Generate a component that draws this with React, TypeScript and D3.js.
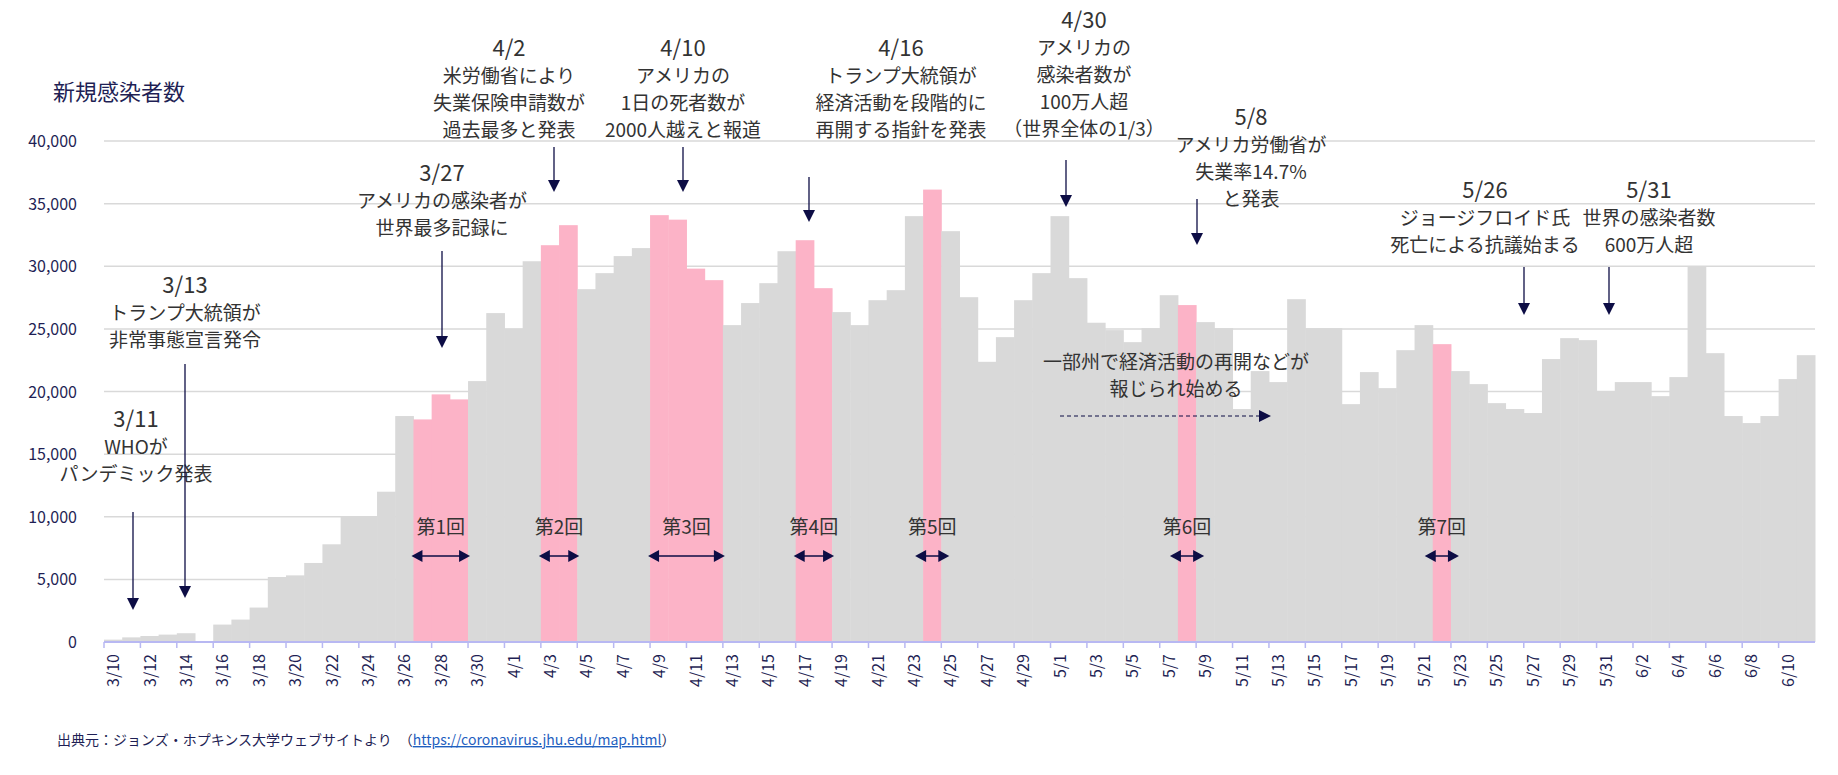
import React from "react";
import * as d3 from "d3";

const dates: string[] = [];
{
  const months = [[3, 10, 31], [4, 1, 30], [5, 1, 31], [6, 1, 11]];
  for (const [m, s, e] of months) for (let d = s; d <= e; d++) dates.push(`${m}/${d}`);
}
const cases = [
  190, 370, 480, 590, 700, 0, 1390, 1790, 2750, 5190, 5320, 6310, 7800, 10000, 10000, 12000, 18040, 17770, 19770, 19370, 20830, 26260,
  25030, 30400, 31680, 33280, 28170, 29450, 30810, 31450, 34080, 33720, 29810, 28890, 25300, 27060, 28650, 31200, 32080, 28250, 26340, 25300,
  27290, 28090, 34000, 36120, 32800, 27530, 22370, 24340, 27290, 29450,
  34000, 29050, 25490, 24900, 23940, 25060, 27690, 26900, 25540, 25060, 18600, 21630, 20750, 27370, 25060, 25060, 18990, 21550, 20270,
  23300, 25300, 23780, 21630, 20590, 19070, 18600, 18280, 22590, 24260, 24100, 20030,
  20750, 20750, 19630, 21150, 30000, 23060, 18040, 17480, 18040, 20990, 22900,
];
const highlight = ["3/27", "3/28", "3/29", "4/3", "4/4", "4/9", "4/10", "4/11", "4/12", "4/17", "4/18", "4/24", "5/8", "5/22"];
const rounds = [
  { label: "第1回", from: "3/27", to: "3/29" },
  { label: "第2回", from: "4/3", to: "4/4" },
  { label: "第3回", from: "4/9", to: "4/12" },
  { label: "第4回", from: "4/17", to: "4/18" },
  { label: "第5回", from: "4/24", to: "4/24" },
  { label: "第6回", from: "5/8", to: "5/8" },
  { label: "第7回", from: "5/22", to: "5/22" },
];
const yTicks = [0, 5000, 10000, 15000, 20000, 25000, 30000, 35000, 40000];
const events = [
  { lines: ["3/11", "WHOが", "パンデミック発表"], cx: 136, ty: 427, ax: 133, a0: 512, a1: 610 },
  { lines: ["3/13", "トランプ大統領が", "非常事態宣言発令"], cx: 185, ty: 293, ax: 185, a0: 364, a1: 598 },
  { lines: ["3/27", "アメリカの感染者が", "世界最多記録に"], cx: 442, ty: 181, ax: 442, a0: 251, a1: 348 },
  { lines: ["4/2", "米労働省により", "失業保険申請数が", "過去最多と発表"], cx: 509, ty: 56, ax: 554, a0: 147, a1: 192 },
  { lines: ["4/10", "アメリカの", "1日の死者数が", "2000人越えと報道"], cx: 683, ty: 56, ax: 683, a0: 147, a1: 192 },
  { lines: ["4/16", "トランプ大統領が", "経済活動を段階的に", "再開する指針を発表"], cx: 901, ty: 56, ax: 809, a0: 177, a1: 222 },
  { lines: ["4/30", "アメリカの", "感染者数が", "100万人超", "（世界全体の1/3）"], cx: 1084, ty: 28, ax: 1066, a0: 160, a1: 207 },
  { lines: ["5/8", "アメリカ労働省が", "失業率14.7%", "と発表"], cx: 1251, ty: 125, ax: 1197, a0: 199, a1: 245 },
  { lines: ["5/26", "ジョージフロイド氏", "死亡による抗議始まる"], cx: 1485, ty: 198, ax: 1524, a0: 267, a1: 315 },
  { lines: ["5/31", "世界の感染者数", "600万人超"], cx: 1649, ty: 198, ax: 1609, a0: 267, a1: 315 },
];

const W = 1838, H = 775;
const left = 104, right = 1815, top = 141, bottom = 642;
const FONT = "'Noto Sans CJK JP', 'Noto Sans', sans-serif";
const NAVY = "#0d0d45";

export default function App() {
  const x = d3.scaleBand<string>().domain(dates).range([left, right]).padding(0);
  const y = d3.scaleLinear().domain([0, 40000]).range([bottom, top]);
  const bw = x.bandwidth();
  const hl = new Set(highlight);
  const fmt = d3.format(",");
  const arrowDown = (ax: number, a0: number, a1: number, k: number) => (
    <g key={k}>
      <line x1={ax} x2={ax} y1={a0} y2={a1 - 10} stroke={NAVY} strokeWidth={1.3} />
      <path d={`M${ax - 6},${a1 - 12} L${ax + 6},${a1 - 12} L${ax},${a1} Z`} fill={NAVY} />
    </g>
  );
  return (
    <svg width={W} height={H} style={{ position: "fixed", left: 0, top: 0, background: "#fff" }} fontFamily={FONT}>
      {yTicks.map((t) => (
        <g key={t}>
          {t > 0 && <line x1={left} x2={right} y1={y(t)} y2={y(t)} stroke="#d9d9d9" strokeWidth={1.5} />}
          <text x={77} y={y(t) + 6} textAnchor="end" fontSize={16} fill="#1f1f55">{fmt(t)}</text>
        </g>
      ))}
      {dates.map((d, i) => (
        <rect key={d} x={x(d)!} y={y(cases[i])} width={bw + 0.5} height={bottom - y(cases[i])} fill={hl.has(d) ? "#fcb3c7" : "#d9d9d9"} />
      ))}
      <line x1={left} x2={right} y1={bottom} y2={bottom} stroke="#b8b8f2" strokeWidth={2} />
      {dates.map((d, i) => i % 2 === 0 ? (
        <g key={d}>
          <line x1={x(d)!} x2={x(d)!} y1={bottom} y2={bottom + 6} stroke="#b8b8f2" strokeWidth={1.5} />
          <text transform={`translate(${x(d)! + bw / 2 + 6},${bottom + 12}) rotate(-90)`} textAnchor="end" fontSize={16} fill="#1f1f55">{d}</text>
        </g>
      ) : null)}
      <text x={53} y={100} fontSize={22} fill="#1f1f55">新規感染者数</text>
      {events.map((e, k) => (
        <g key={k}>
          {e.lines.map((l, j) => (
            <text key={j} x={e.cx} y={e.ty + j * 27} textAnchor="middle" fontSize={j === 0 ? 22 : 19} fill="#333">{l}</text>
          ))}
          {arrowDown(e.ax, e.a0, e.a1, k)}
        </g>
      ))}
      {rounds.map((r) => {
        const x0 = x(r.from)!, x1 = x(r.to)! + bw;
        const pad = r.from === r.to ? 8 : 2;
        const a = x0 - pad, b = x1 + pad;
        const cy = 556;
        return (
          <g key={r.label}>
            <text x={(x0 + x1) / 2} y={534} textAnchor="middle" fontSize={19} fill="#333">{r.label}</text>
            <line x1={a + 8} x2={b - 8} y1={cy} y2={cy} stroke={NAVY} strokeWidth={1.5} />
            <path d={`M${a},${cy} L${a + 11},${cy - 6} L${a + 11},${cy + 6} Z`} fill={NAVY} />
            <path d={`M${b},${cy} L${b - 11},${cy - 6} L${b - 11},${cy + 6} Z`} fill={NAVY} />
          </g>
        );
      })}
      <text x={1176} y={369} textAnchor="middle" fontSize={19} fill="#333">一部州で経済活動の再開などが</text>
      <text x={1176} y={396} textAnchor="middle" fontSize={19} fill="#333">報じられ始める</text>
      <line x1={1060} x2={1262} y1={416} y2={416} stroke={NAVY} strokeWidth={1.2} strokeDasharray="4,3" />
      <path d="M1259,410 L1271,416 L1259,422 Z" fill={NAVY} />
      <text x={57} y={745} fontSize={14} fill="#1f1f55">
        出典元：ジョンズ・ホプキンス大学ウェブサイトより　（
        <tspan fill="#1f5fbf" textDecoration="underline">https://coronavirus.jhu.edu/map.html</tspan>
        ）
      </text>
    </svg>
  );
}
